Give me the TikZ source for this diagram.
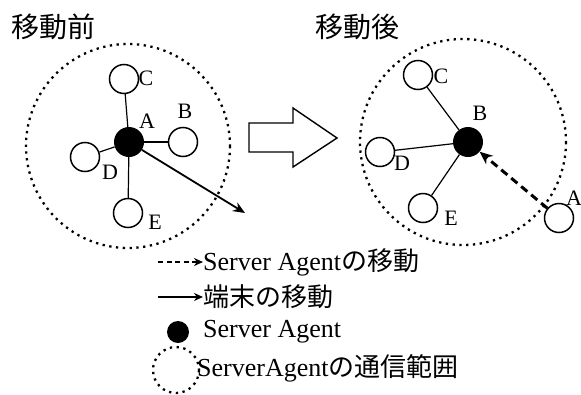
\documentclass[tikz,border=0pt]{standalone}
\usepackage{fontspec}
\setmainfont{Liberation Serif}
\newfontfamily\jp{Noto Sans CJK JP}
\usetikzlibrary{arrows.meta}

\tikzset{
  term/.style={circle,draw,line width=1.5pt,minimum size=29pt,inner sep=0pt},
  agent/.style={circle,fill,minimum size=30pt,inner sep=0pt},
  link/.style={line width=1.2pt},
  reach/.style={line width=2.3pt,dash pattern=on 2.3pt off 4.5pt},
  lbl/.style={font=\fontsize{22}{22}\selectfont,inner sep=0pt},
  legend/.style={font=\fontsize{26}{26}\selectfont,anchor=west,inner sep=0pt},
  hop/.style={line width=3pt,dash pattern=on 8pt off 5pt,-{Stealth[length=13pt,width=11pt]}},
  walk/.style={line width=1.8pt,-{Stealth[length=12pt,width=10pt]}}
}

\begin{document}
\begin{tikzpicture}[x=1pt,y=-1pt]
    \useasboundingbox (0,0) rectangle (581,394);

    % before
    \node[font=\jp\fontsize{28}{28}\selectfont] (tBefore) at (53,27) {移動前};
    \draw[reach] (128,146) circle(102);
    \node[agent] (A) at (129,142) {}; % Server Agent
    \node[term] (B) at (183,142) {};
    \node[term] (C) at (124,79) {};
    \node[term] (D) at (85,157) {};
    \node[term] (E) at (128,213) {};
    \draw[link] (A) -- (B);
    \draw[link] (A) -- (C);
    \draw[link] (A) -- (D);
    \draw[link] (A) -- (E);
    \node[lbl] (lA) at (147,121) {A};
    \node[lbl] (lB) at (185,111) {B};
    \node[lbl] (lC) at (146,78) {C};
    \node[lbl] (lD) at (110,172) {D};
    \node[lbl] (lE) at (155,222) {E};
    \coordinate (Aend) at (245,213); % where A goes
    \draw[walk] (A) -- (Aend);

    % hollow arrow
    \draw[link,line width=1.4pt] (249,123) -- (293,123) -- (293,108) -- (337,138)
        -- (293,167) -- (293,152) -- (249,152) -- cycle;

    % after
    \node[font=\jp\fontsize{28}{28}\selectfont] (tAfter) at (357,27) {移動後};
    \draw[reach] (463,142) circle(103);
    \node[agent] (B2) at (468,142) {}; % Server Agent
    \node[term] (C2) at (418,75) {};
    \node[term] (D2) at (380,152) {};
    \node[term] (E2) at (423,208) {};
    \node[term] (A2) at (559,218) {};
    \draw[link] (B2) -- (C2);
    \draw[link] (B2) -- (D2);
    \draw[link] (B2) -- (E2);
    \draw[hop] (A2) -- (B2);
    \node[lbl] (lB2) at (480,113) {B};
    \node[lbl] (lC2) at (441,76) {C};
    \node[lbl] (lD2) at (402,163) {D};
    \node[lbl] (lE2) at (451,218) {E};
    \node[lbl] (lA2) at (574,198) {A};

    % legend
    \node[legend] (k1) at (203,262) {Server Agent{\jp の移動}};
    \coordinate (k1s) at (158,262);
    \draw[hop,line width=2.8pt,dash pattern=on 5pt off 3.5pt,-{Stealth[length=9pt,width=8pt]}] (k1s) -- (k1.west);
    \node[legend] (k2) at (203,297) {\jp 端末の移動};
    \coordinate (k2s) at (158,297);
    \draw[walk,-{Stealth[length=9pt,width=8pt]}] (k2s) -- (k2.west);
    \node[agent,minimum size=22pt] (k3dot) at (178,332) {};
    \node[legend] (k3) at (203,332) {Server Agent};
    \draw[reach] (176,370) circle(23);
    \node[legend] (k4) at (197,368) {ServerAgent{\jp の通信範囲}};
\end{tikzpicture}
\end{document}
